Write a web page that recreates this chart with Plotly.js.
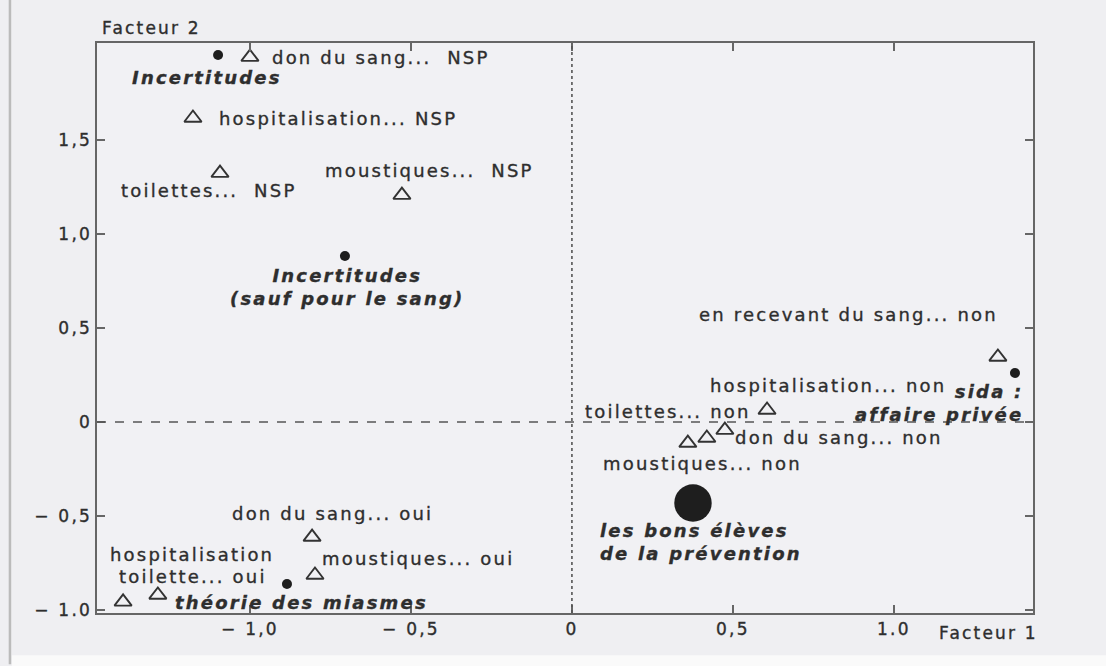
<!DOCTYPE html>
<html><head><meta charset="utf-8">
<script src="https://cdn.plot.ly/plotly-3.0.1.min.js"></script>
<style>
html,body{margin:0;padding:0;background:#efeff2;}
text{letter-spacing:2.2px;}
.annotation-text, .xtick text, .ytick text{stroke:#2e2e2e;stroke-width:0.35px;}
</style></head><body>
<div id="chart" style="width:1106px;height:666px;"></div>
<script>
// ---- data: modalities (open triangles) ----
const modLabels = [
  "don du sang...  NSP", "hospitalisation... NSP", "toilettes...  NSP", "moustiques...  NSP",
  "en recevant du sang... non", "toilettes... non", "moustiques... non", "hospitalisation... non",
  "don du sang... non", "don du sang... oui", "moustiques... oui", "hospitalisation", "toilette... oui"
];
const modX = [-1.000, -1.177, -1.093, -0.528, 1.323, 0.606, 0.360, 0.419, 0.475, -0.807, -0.798, -1.394, -1.286];
const modY = [1.941, 1.617, 1.324, 1.207, 0.346, 0.064, -0.112, -0.085, -0.043, -0.612, -0.814, -0.957, -0.920];

// ---- data: classes (filled dots) ----
const classLabels = [
  "Incertitudes", "Incertitudes<br>(sauf pour le sang)", "sida :<br>affaire privée",
  "les bons élèves<br>de la prévention", "théorie des miasmes"
];
const classX = [-1.099, -0.705, 1.376, 0.376, -0.885];
const classY = [1.952, 0.883, 0.261, -0.431, -0.862];
const classWeight = [1, 1, 1, 14, 1];

// ---- tick labels ----
const xTickVals = [-1, -0.5, 0, 0.5, 1];
const xTickText = ["− 1,0", "− 0,5", "0", "0,5", "1.0"];
const yTickVals = [-1, -0.5, 0, 0.5, 1, 1.5];
const yTickText = ["− 1.0", "− 0,5", "0", "0,5", "1,0", "1,5"];

// ---- label placement (style) ----
const modLabelPos = [
  {a:"left", xs:20, ys:0}, {a:"left", xs:24, ys:0}, {a:"center", xs:-12, ys:-17}, {a:"center", xs:28, ys:25},
  {a:"right", xs:2, ys:42}, {a:"right", xs:-14, ys:-2}, {a:"center", xs:15, ys:-20}, {a:"left", xs:1, ys:52},
  {a:"left", xs:8, ys:-7}, {a:"center", xs:20, ys:24}, {a:"left", xs:5, ys:17}, {a:"left", xs:-15, ys:47},
  {a:"left", xs:-41, ys:18}
];
const classLabelPos = [
  {a:"center", xs:-11, ys:-22}, {a:"center", xs:2, ys:-31}, {a:"right", xs:10, ys:-30},
  {a:"left", xs:-95, ys:-39}, {a:"center", xs:15, ys:-18}
];

const ink = "#2e2e2e";
const fontFam = "DejaVu Sans, sans-serif";

const traces = [
  {
    type: "scatter", mode: "markers", x: modX, y: modY, text: modLabels, hoverinfo: "text",
    marker: {symbol: "triangle-up-open", size: 15, opacity: 1, color: "#333", line: {width: 1.9, color: "#333"}}
  },
  {
    type: "scatter", mode: "markers", x: classX, y: classY, text: classLabels, hoverinfo: "text",
    marker: {symbol: "circle", size: classWeight.map(w => 10 * Math.sqrt(w)), opacity: 1, color: "#1e1e1e", line: {width: 0}}
  }
];

const annotations = [];
modLabels.forEach((t, i) => {
  const p = modLabelPos[i];
  annotations.push({x: modX[i], y: modY[i], xref: "x", yref: "y", text: t, showarrow: false,
    xanchor: p.a, yanchor: "middle", xshift: p.xs, yshift: p.ys,
    font: {family: fontFam, size: 18, color: ink}});
});
classLabels.forEach((t, i) => {
  const p = classLabelPos[i];
  annotations.push({x: classX[i], y: classY[i], xref: "x", yref: "y", text: "<b><i>" + t.replace("<br>", "</i></b><br><b><i>") + "</i></b>",
    showarrow: false, xanchor: p.a, yanchor: "middle", align: p.a,
    xshift: p.xs, yshift: p.ys, font: {family: fontFam, size: 18, color: ink}});
});
annotations.push({xref: "paper", yref: "paper", x: 0.003, y: 1, xanchor: "left", yanchor: "bottom", yshift: 3,
  text: "Facteur 2", showarrow: false, font: {family: fontFam, size: 17, color: ink}});
annotations.push({xref: "paper", yref: "paper", x: 1.0075, y: 0, xanchor: "right", yanchor: "top", yshift: -8,
  text: "Facteur 1", showarrow: false, font: {family: fontFam, size: 17, color: ink}});

const layout = {
  width: 1106, height: 666,
  margin: {l: 97, r: 73, t: 43, b: 53},
  paper_bgcolor: "#efeff2", plot_bgcolor: "#f1f1f4",
  showlegend: false,
  font: {family: fontFam, size: 17, color: ink},
  xaxis: {
    range: [-1.475, 1.432], tickvals: xTickVals, ticktext: xTickText,
    showgrid: false, zeroline: false, showline: true, linecolor: "#666", linewidth: 1.6,
    mirror: "ticks", ticks: "inside", ticklen: 8, tickcolor: "#666", tickwidth: 1.5,
    tickfont: {family: fontFam, size: 17, color: ink}
  },
  yaxis: {
    range: [-1.016, 2.016], tickvals: yTickVals, ticktext: yTickText,
    showgrid: false, zeroline: false, showline: true, linecolor: "#666", linewidth: 1.6,
    mirror: "ticks", ticks: "inside", ticklen: 8, tickcolor: "#666", tickwidth: 1.5,
    tickfont: {family: fontFam, size: 17, color: ink}
  },
  shapes: [
    {type: "line", xref: "x", yref: "paper", x0: 0, x1: 0, y0: 0, y1: 1, line: {color: "#555", width: 1.6, dash: "dot"}},
    {type: "line", xref: "paper", yref: "y", x0: 0, x1: 1, y0: 0, y1: 0, line: {color: "#555", width: 1.3, dash: "dash"}},
    {type: "line", xref: "paper", yref: "paper", x0: -0.093, x1: -0.093, y0: -0.09, y1: 1.08, line: {color: "#bbbbbb", width: 2.5}},
    {type: "rect", xref: "paper", yref: "paper", x0: -0.091, x1: 1.08, y0: -0.074, y1: -0.1, fillcolor: "#fafafa", line: {width: 0}, layer: "below"}
  ],
  annotations: annotations
};

Plotly.newPlot("chart", traces, layout, {displayModeBar: false, staticPlot: true});
</script>
</body></html>
